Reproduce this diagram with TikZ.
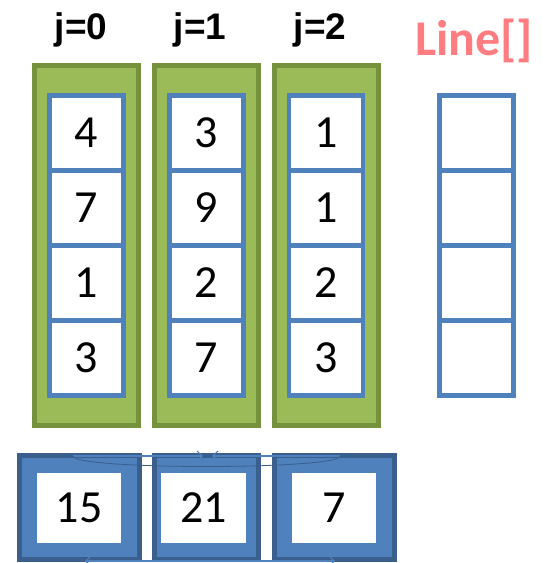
\documentclass[tikz,border=0pt]{standalone}
\usepackage{fontspec}
\setmainfont{Carlito}
\newfontfamily\arialb{Liberation Sans}
\usetikzlibrary{arrows.meta}
\definecolor{gfill}{HTML}{9BBB59}
\definecolor{gdraw}{HTML}{76923C}
\definecolor{bl}{HTML}{4F81BD}
\definecolor{bdark}{HTML}{3A5F8C}
\definecolor{pinkr}{HTML}{FF7C80}
\begin{document}
\begin{tikzpicture}[x=1pt,y=-1pt,
  gcol/.style={draw=gdraw,fill=gfill,line width=5pt,minimum width=104pt,minimum height=360pt,inner sep=0pt},
  cell/.style={draw=bl,fill=white,line width=4.5pt,minimum width=74pt,minimum height=75pt,inner sep=0pt,font=\fontsize{46}{46}\selectfont},
  sumbox/.style={draw=bdark,fill=bl,line width=5pt,minimum height=104pt,inner sep=0pt},
  sumin/.style={fill=white,minimum width=84pt,minimum height=70pt,inner sep=0pt,font=\fontsize{46}{46}\selectfont},
  jlab/.style={font=\arialb\bfseries\fontsize{37}{37}\selectfont,anchor=base},
  thin/.style={draw=bl,line width=1.2pt}
]
\useasboundingbox (0,0) rectangle (547,563);
% labels
\node[jlab] (j0) at (81,39) {j=0};
\node[jlab] (j1) at (200,39) {j=1};
\node[jlab] (j2) at (320,39) {j=2};
\node[font=\bfseries\fontsize{50}{50}\selectfont,text=pinkr,anchor=base] (line) at (474,55) {Line[]};
% green columns
\node[gcol] (g0) at (86.5,245.5) {};
\node[gcol] (g1) at (206.5,245.5) {};
\node[gcol] (g2) at (326,245.5) {};
% cells
\foreach \c/\x/\a/\b/\cc/\d in {0/86.5/4/7/1/3, 1/206.5/3/9/2/7, 2/326/1/1/2/3}{
  \node[cell] (c\c0) at (\x,133) {\a};
  \node[cell] (c\c1) at (\x,208) {\b};
  \node[cell] (c\c2) at (\x,283) {\cc};
  \node[cell] (c\c3) at (\x,358) {\d};
}
% Line[] cells
\node[cell] (l0) at (476.5,133) {};
\node[cell] (l1) at (476.5,208) {};
\node[cell] (l2) at (476.5,283) {};
\node[cell] (l3) at (476.5,358) {};
% sum boxes
\node[sumbox,minimum width=120pt] (s0) at (79.5,507.5) {};
\node[sumbox,minimum width=104pt] (s1) at (206.5,507.5) {};
\node[sumbox,minimum width=120pt] (s2) at (334.5,507.5) {};
\node[sumin] (t0) at (79,508) {15};
\node[sumin,minimum width=85pt] (t1) at (203.5,508) {21};
\node[sumin] (t2) at (334,508) {7};
% thin connectors
\coordinate (a1) at (73,456);
\coordinate (a2) at (203,456);
\coordinate (a3) at (340,456);
\coordinate (a4) at (212,456);
\coordinate (b1) at (85,561);
\coordinate (b2) at (210,561);
\coordinate (b3) at (335,561);
\draw[thin,-{Straight Barb[length=5pt]}] (a1) -- (a2);
\draw[thin,-{Straight Barb[length=5pt]}] (a3) -- (a4);
\draw[thin,-{Straight Barb[length=5pt]}] (b2) -- (b1);
\draw[thin,-{Straight Barb[length=5pt]}] (b2) -- (b3);
\draw[bdark,line width=0.8pt] (a1) .. controls (73,470) and (340,470) .. (a3);
\end{tikzpicture}
\end{document}
